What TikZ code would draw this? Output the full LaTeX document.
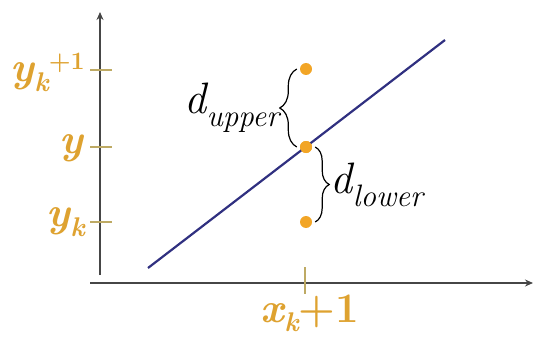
\documentclass[tikz,border=0pt]{standalone}
\usetikzlibrary{arrows.meta,decorations.pathreplacing}
\definecolor{labelgold}{RGB}{222,162,48}
\definecolor{dotorange}{RGB}{242,165,38}
\definecolor{tickolive}{RGB}{190,170,100}
\definecolor{linenavy}{RGB}{48,48,128}
\definecolor{axisgray}{RGB}{70,70,70}
\begin{document}
\begin{tikzpicture}[x=1pt,y=-1pt,
  axis/.style={draw=axisgray,line width=2pt,-{Stealth[length=8pt,width=7pt]}},
  tick/.style={draw=tickolive,line width=1.2pt},
  dot/.style={circle,fill=dotorange,inner sep=0pt,minimum size=12pt},
  axlabel/.style={text=labelgold,inner sep=1pt,font=\fontsize{42}{42}\selectfont\bfseries\itshape},
  dlabel/.style={inner sep=1pt,font=\fontsize{44}{44}\selectfont\itshape},
  brc/.style={draw=black,line width=1.2pt,decorate,decoration={brace,amplitude=#1}}]
\useasboundingbox (0,0) rectangle (533,337);
% axes
\coordinate (orig) at (100,283);
\coordinate (ytop) at (100,12);
\coordinate (xend) at (533,283);
\draw[axis] ([yshift=8]orig) -- (ytop);
\draw[axis] ([xshift=-10]orig) -- (xend);
% sample points and the true line
\node[dot] (up) at (306,69) {};
\node[dot] (mid) at (306,147) {};
\node[dot] (low) at (306,222) {};
\coordinate (la) at (148,268);
\coordinate (lb) at (445,40);
\draw[linenavy,line width=2.2pt] (la) -- (lb);
\node[dot] at (mid) {};
% ticks
\foreach \yy in {70,147,222}
  \draw[tick] (90,\yy) -- (112,\yy);
\draw[tick] (305,267) -- (305,294);
% axis labels
\node[axlabel,anchor=east] (ykp) at (86,72) {y\raisebox{-0.22em}{\fontsize{27}{27}\selectfont k}\raisebox{0.3em}{\fontsize{25}{25}\selectfont\upshape +1}};
\node[axlabel,anchor=east] (yy) at (84,148) {y};
\node[axlabel,anchor=east] (yk) at (86,222) {y\raisebox{-0.22em}{\fontsize{27}{27}\selectfont k}};
\node[axlabel,anchor=north] (xk) at (310,294) {x\raisebox{-0.22em}{\fontsize{27}{27}\selectfont k}\upshape +1};
% distances
\draw[brc=17] ([xshift=-3]mid.west) -- ([xshift=-3]up.west) node[midway,left=16pt,dlabel] (du) {d\raisebox{-0.3em}{\fontsize{31}{31}\selectfont upper}};
\draw[brc=14] ([xshift=3]mid.east) -- ([xshift=3]low.east) node[midway,right=14pt,dlabel] (dl) {d\raisebox{-0.3em}{\fontsize{31}{31}\selectfont lower}};
\end{tikzpicture}
\end{document}
